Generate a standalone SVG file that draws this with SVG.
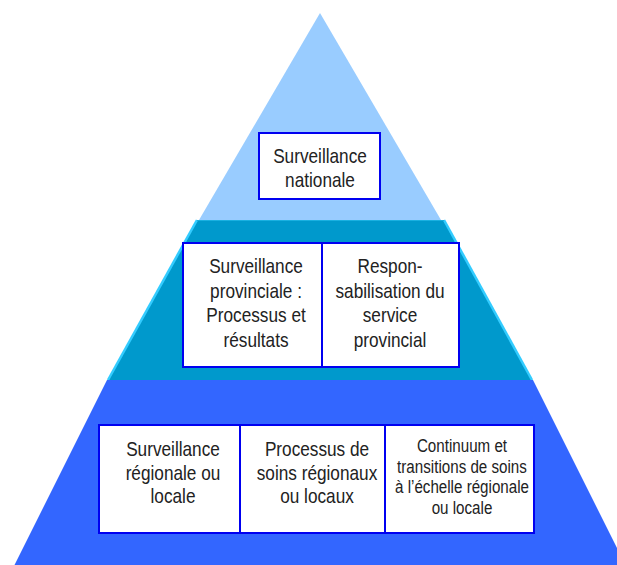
<svg xmlns="http://www.w3.org/2000/svg" width="617" height="565" viewBox="0 0 617 565">
<style>
.box{fill:#fff;stroke:#0000f0;stroke-width:2}
.t{font-family:"Liberation Sans",Arial,sans-serif;font-size:21px;fill:#222;text-anchor:middle}
.s{font-size:18.5px}
.bevel{fill:none;stroke:#33ccff;stroke-width:2.5}
</style>
<rect width="617" height="565" fill="#fff"/>
<g id="pyramid">
<polygon points="320,13 441,220 199,220" fill="#99ccff"/>
<polygon points="197,220 444,220 532,380 108,380" fill="#0099cc"/>
<polyline class="bevel" points="197,220 108,380"/>
<polyline class="bevel" points="444,220 532,380"/>
<line x1="197" y1="220.5" x2="444" y2="220.5" stroke="#1ab0e0" stroke-width="1"/>
<polygon points="107,380 533,380 626,566 14,566" fill="#3366ff"/>
</g>
<g id="connectors"/>
<g id="national">
<rect class="box" x="259" y="133" width="121" height="66"/>
<text class="t" transform="matrix(0.82,0,0,1,320,163)">Surveillance</text>
<text class="t" transform="matrix(0.82,0,0,1,320,187)">nationale</text>
</g>
<g id="provincial-surveillance">
<rect class="box" x="183" y="243" width="139" height="124"/>
<text class="t" transform="matrix(0.82,0,0,1,256,273)">Surveillance</text>
<text class="t" transform="matrix(0.82,0,0,1,256,297.5)">provinciale :</text>
<text class="t" transform="matrix(0.82,0,0,1,256,322)">Processus et</text>
<text class="t" transform="matrix(0.82,0,0,1,256,346.5)">résultats</text>
</g>
<g id="provincial-accountability">
<rect class="box" x="322" y="243" width="137" height="124"/>
<text class="t" transform="matrix(0.82,0,0,1,390,273)">Respon-</text>
<text class="t" transform="matrix(0.82,0,0,1,390,297.5)">sabilisation du</text>
<text class="t" transform="matrix(0.82,0,0,1,390,322)">service</text>
<text class="t" transform="matrix(0.82,0,0,1,390,346.5)">provincial</text>
</g>
<g id="regional-surveillance">
<rect class="box" x="99" y="425" width="141" height="108"/>
<text class="t" transform="matrix(0.82,0,0,1,173,456)">Surveillance</text>
<text class="t" transform="matrix(0.82,0,0,1,173,480)">régionale ou</text>
<text class="t" transform="matrix(0.82,0,0,1,173,503)">locale</text>
</g>
<g id="regional-processes">
<rect class="box" x="240" y="425" width="145" height="108"/>
<text class="t" transform="matrix(0.82,0,0,1,317,456)">Processus de</text>
<text class="t" transform="matrix(0.82,0,0,1,317,480)">soins régionaux</text>
<text class="t" transform="matrix(0.82,0,0,1,317,503)">ou locaux</text>
</g>
<g id="regional-continuum">
<rect class="box" x="385" y="425" width="149" height="108"/>
<text class="t s" transform="matrix(0.82,0,0,1,462,452)">Continuum et</text>
<text class="t s" transform="matrix(0.82,0,0,1,462,472.5)">transitions de soins</text>
<text class="t s" transform="matrix(0.82,0,0,1,462,493)">à l’échelle régionale</text>
<text class="t s" transform="matrix(0.82,0,0,1,462,513.5)">ou locale</text>
</g>
</svg>
